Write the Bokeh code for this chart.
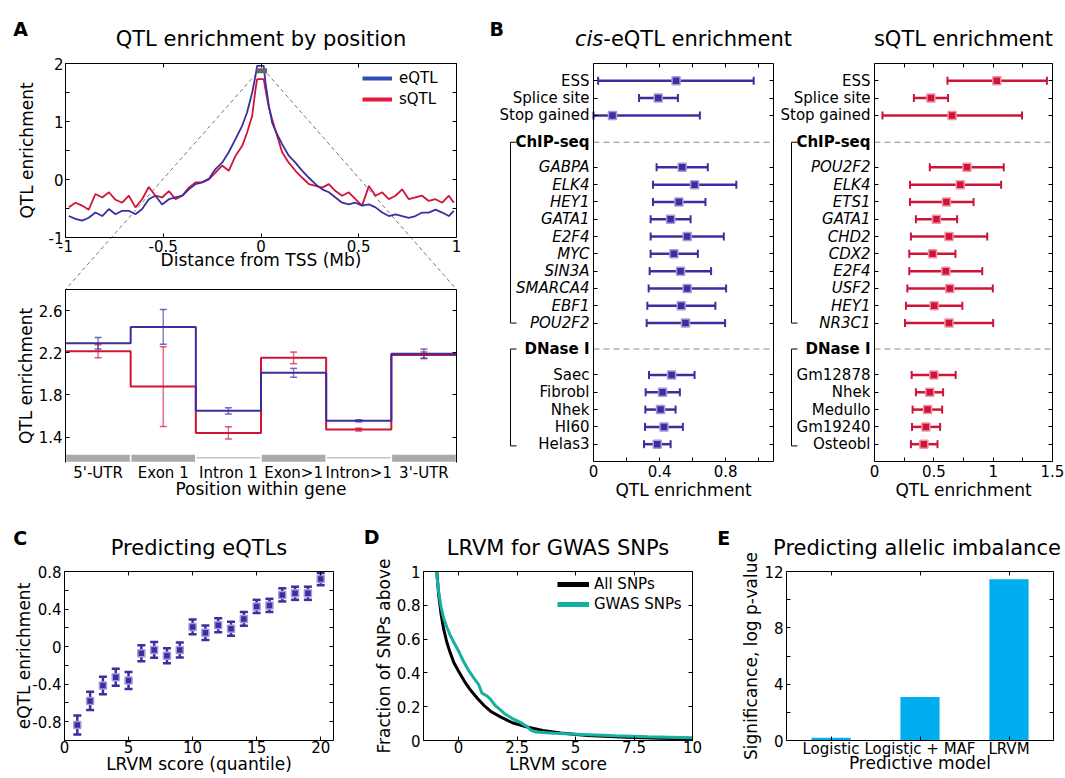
import numpy as np
from bokeh.plotting import figure
from bokeh.models import Range1d, LinearAxis, FixedTicker, Legend, LegendItem, ColumnDataSource
from bokeh.core.properties import value, field
from bokeh.embed import file_html
from bokeh.resources import INLINE

FONT = "DejaVu Sans"

# ============================ DATA ============================
# --- A (top): QTL enrichment by distance from TSS ---
dist_mb = [-0.983, -0.949, -0.915, -0.881, -0.847, -0.812, -0.778, -0.744, -0.710, -0.676,
           -0.642, -0.608, -0.574, -0.540, -0.506, -0.471, -0.437, -0.403, -0.369, -0.335,
           -0.301, -0.267, -0.233, -0.199, -0.165, -0.130, -0.096, -0.071, -0.045, -0.028,
           -0.020, 0.014, 0.023, 0.040, 0.057, 0.074, 0.108, 0.142, 0.176, 0.211,
           0.245, 0.279, 0.313, 0.347, 0.381, 0.415, 0.449, 0.483, 0.517, 0.552,
           0.586, 0.620, 0.654, 0.688, 0.722, 0.756, 0.790, 0.824, 0.858, 0.893,
           0.927, 0.961, 0.986]
eqtl_enrich = [-0.63, -0.68, -0.71, -0.66, -0.57, -0.63, -0.51, -0.60, -0.54, -0.54,
               -0.60, -0.51, -0.34, -0.28, -0.43, -0.34, -0.31, -0.28, -0.17, -0.08,
               -0.05, 0.01, 0.18, 0.29, 0.47, 0.70, 0.93, 1.16, 1.50, 1.79,
               1.96, 1.96, 1.67, 1.27, 0.98, 0.84, 0.61, 0.41, 0.29, 0.15,
               0.03, -0.08, -0.17, -0.22, -0.31, -0.40, -0.43, -0.40, -0.45, -0.43,
               -0.48, -0.57, -0.63, -0.60, -0.63, -0.66, -0.63, -0.57, -0.57, -0.52,
               -0.57, -0.63, -0.54]
sqtl_enrich = [-0.48, -0.40, -0.45, -0.52, -0.25, -0.31, -0.22, -0.35, -0.40, -0.28,
               -0.48, -0.34, -0.13, -0.28, -0.31, -0.20, -0.34, -0.28, -0.14, -0.05,
               -0.05, 0.00, 0.12, 0.24, 0.15, 0.41, 0.58, 0.81, 1.10, 1.56,
               1.73, 1.73, 1.55, 1.25, 1.04, 0.85, 0.47, 0.29, 0.15, 0.03,
               -0.08, -0.11, -0.14, -0.08, -0.20, -0.28, -0.22, -0.34, -0.45, -0.11,
               -0.28, -0.22, -0.34, -0.28, -0.17, -0.34, -0.31, -0.28, -0.37, -0.34,
               -0.40, -0.28, -0.40]
zoom_window_mb = [-0.023, 0.031]
zoom_window_y = [1.83, 1.92]

# --- A (bottom): enrichment by position within gene ---
gene_parts = ["5'-UTR", "Exon 1", "Intron 1", "Exon>1", "Intron>1", "3'-UTR"]
gene_part_is_exon = [True, True, False, True, False, True]
eqtl_by_part = [2.29, 2.445, 1.65, 2.01, 1.555, 2.19]
eqtl_by_part_err = [0.055, 0.165, 0.03, 0.042, 0.01, 0.045]
sqtl_by_part = [2.215, 1.88, 1.44, 2.152, 1.472, 2.178]
sqtl_by_part_err = [0.062, 0.378, 0.058, 0.055, 0.014, 0.03]

# --- B: annotation enrichment ---
annot_names = ["ESS", "Splice site", "Stop gained"]
cis_annot = [0.50, 0.392, 0.115]
cis_annot_lo = [0.028, 0.276, 0.0]
cis_annot_hi = [0.97, 0.511, 0.644]
cis_chip_names = ["GABPA", "ELK4", "HEY1", "GATA1", "E2F4", "MYC", "SIN3A", "SMARCA4", "EBF1", "POU2F2"]
cis_chip = [0.537, 0.612, 0.517, 0.467, 0.567, 0.487, 0.527, 0.567, 0.531, 0.557]
cis_chip_lo = [0.382, 0.36, 0.36, 0.346, 0.346, 0.346, 0.34, 0.334, 0.326, 0.322]
cis_chip_hi = [0.692, 0.865, 0.678, 0.588, 0.789, 0.632, 0.712, 0.803, 0.738, 0.797]
cis_dnase_names = ["Saec", "Fibrobl", "Nhek", "HI60", "Helas3"]
cis_dnase = [0.473, 0.418, 0.406, 0.427, 0.386]
cis_dnase_lo = [0.336, 0.316, 0.314, 0.312, 0.306]
cis_dnase_hi = [0.612, 0.523, 0.497, 0.541, 0.467]

s_annot = [1.031, 0.475, 0.654]
s_annot_lo = [0.615, 0.332, 0.067]
s_annot_hi = [1.453, 0.62, 1.243]
s_chip_names = ["POU2F2", "ELK4", "ETS1", "GATA1", "CHD2", "CDX2", "E2F4", "USF2", "HEY1", "NR3C1"]
s_chip = [0.779, 0.723, 0.606, 0.522, 0.628, 0.489, 0.601, 0.634, 0.503, 0.628]
s_chip_lo = [0.466, 0.299, 0.299, 0.349, 0.307, 0.293, 0.293, 0.277, 0.265, 0.257]
s_chip_hi = [1.089, 1.067, 0.835, 0.696, 0.95, 0.682, 0.908, 0.997, 0.74, 1.0]
s_dnase_names = ["Gm12878", "Nhek", "Medullo", "Gm19240", "Osteobl"]
s_dnase = [0.5, 0.466, 0.447, 0.433, 0.416]
s_dnase_lo = [0.313, 0.349, 0.321, 0.316, 0.307]
s_dnase_hi = [0.684, 0.578, 0.57, 0.553, 0.531]

# --- C: predicting eQTLs ---
lrvm_quantile = list(range(1, 21))
eqtl_by_quantile = [-0.835, -0.579, -0.414, -0.326, -0.361, -0.07, -0.035, -0.098, -0.035, 0.21,
                    0.147, 0.228, 0.19, 0.295, 0.428, 0.439, 0.551, 0.568, 0.568, 0.719]
eqtl_by_quantile_err = [0.10, 0.097, 0.093, 0.09, 0.09, 0.085, 0.083, 0.08, 0.08, 0.079,
                        0.077, 0.075, 0.075, 0.074, 0.07, 0.07, 0.07, 0.07, 0.07, 0.065]

# --- D: LRVM for GWAS SNPs ---
all_snps_score = [-0.93, -0.85, -0.75, -0.64, -0.50, -0.36, -0.20, 0.0, 0.25, 0.5, 0.8,
                  1.07, 1.4, 1.79, 2.3, 2.93, 3.6, 4.36, 5.5, 7.2, 8.6, 10.0]
all_snps_frac = [1.0, 0.86, 0.75, 0.66, 0.58, 0.52, 0.46, 0.41, 0.35, 0.30, 0.25,
                 0.21, 0.17, 0.14, 0.105, 0.08, 0.06, 0.045, 0.03, 0.019, 0.014, 0.01]
gwas_snps_score = [-0.95, -0.85, -0.75, -0.63, -0.5, -0.35, -0.2, 0.0, 0.2, 0.45, 0.7, 0.86, 1.0,
                   1.2, 1.36, 1.55, 1.8, 2.0, 2.3, 2.6, 2.9, 3.1, 3.3, 4.1, 5.3, 6.7, 8.1, 10.0]
gwas_snps_frac = [1.0, 0.88, 0.79, 0.72, 0.67, 0.62, 0.58, 0.53, 0.47, 0.41, 0.36, 0.33, 0.28,
                  0.265, 0.245, 0.21, 0.18, 0.155, 0.13, 0.11, 0.085, 0.06, 0.05, 0.043, 0.035,
                  0.028, 0.022, 0.016]

# --- E: predicting allelic imbalance ---
models = ["Logistic", "Logistic + MAF", "LRVM"]
significance = [0.2, 3.08, 11.45]

# ============================ STYLE / LAYOUT ============================
EQ = "#3b2e9e"
EQ_LIGHT = "#a49ddb"
SQ = "#cf1439"
SQ_LIGHT = "#ee95a6"
EQ_LEG = "#2d4db5"
SQ_LEG = "#e4173f"
TEAL = "#16b0a2"
BAR = "#00aeef"

W, H = 1064, 776

# B row positions
n_a = len(annot_names)
ann_rows = list(range(n_a))
chip_head = n_a + 0.55
chip_rows = [n_a + 2 + i for i in range(len(cis_chip_names))]
dnase_head = chip_rows[-1] + 1.5
dnase_rows = [dnase_head + 1.5 + i for i in range(len(cis_dnase_names))]
row_bottom = dnase_rows[-1] + 1

# boxes in canvas pixels: left, right, top, bottom
BOX = {
    "at": (65, 456, 63, 237),
    "ab": (65, 456, 289, 462),
    "bl": (593, 773, 63, 461),
    "br": (874, 1052, 63, 461),
    "c": (64, 333, 571, 740),
    "d": (423, 692, 571, 740),
    "e": (786, 1053, 571, 740),
}
# data limits: (x0, x1), (y_bottom, y_top)
LIMS = {
    "at": ((-1, 1), (-1, 2)),
    "ab": ((0, 6), (1.16, 2.8)),
    "bl": ((0, 1.09), (row_bottom, -1)),
    "br": ((0, 1.5), (row_bottom, -1)),
    "c": ((0, 21), (-1, 0.8)),
    "d": ((-1.5, 10), (0, 1)),
    "e": ((-0.5, 2.5), (0, 12)),
}


def xr(px0, px1, v0, v1):
    k = (v1 - v0) / (px1 - px0)
    return Range1d(v0 - px0 * k, v1 + (W - px1) * k)


def yr(py_top, py_bot, v_top, v_bot):
    k = (v_top - v_bot) / (py_bot - py_top)
    return Range1d(v_bot - (H - py_bot) * k, v_top + py_top * k)


def to_px(k, x, y):
    L, R, T, B = BOX[k]
    (x0, x1), (yb, yt) = LIMS[k]
    return L + (x - x0) / (x1 - x0) * (R - L), B - (y - yb) / (yt - yb) * (B - T)


p = figure(width=W, height=H, x_range=Range1d(0, W), y_range=Range1d(H, 0),
           x_axis_type=None, y_axis_type=None, toolbar_location=None, title=None,
           output_backend="svg", min_border=0, outline_line_color=None,
           background_fill_color="white", border_fill_color="white")

exr, eyr = {}, {}
for k, (L, R, T, B) in BOX.items():
    (x0, x1), (yb, yt) = LIMS[k]
    exr[k + "x"] = xr(L, R, x0, x1)
    eyr[k + "y"] = yr(T, B, yt, yb)
p.extra_x_ranges = exr
p.extra_y_ranges = eyr


def rn(k):
    return dict(x_range_name=k + "x", y_range_name=k + "y")


def add_axis(k, side, ticks=(), labels=None, minor=(), tin=4, label=None,
             lstand=2, alstand=0, line=True):
    (x0, x1), (yb, yt) = LIMS[k]
    loc = {"left": x0, "right": x1, "below": yb, "above": yt}[side]
    bounds = (min(yb, yt), max(yb, yt)) if side in ("left", "right") else (x0, x1)
    ax = LinearAxis(x_range_name=k + "x", y_range_name=k + "y", fixed_location=loc,
                    bounds=bounds,
                    ticker=FixedTicker(ticks=list(ticks), minor_ticks=list(minor)),
                    major_tick_in=tin, major_tick_out=0, minor_tick_in=tin, minor_tick_out=0,
                    major_tick_line_color="black", minor_tick_line_color="black",
                    axis_line_color="black" if line else None, axis_line_width=1,
                    major_label_standoff=lstand,
                    major_label_text_font=FONT, major_label_text_font_size="15px",
                    major_label_text_color="black",
                    axis_label_text_font=FONT, axis_label_text_font_size="17px",
                    axis_label_text_font_style="normal", axis_label_text_color="black",
                    axis_label_standoff=alstand)
    if labels is not None:
        ax.major_label_overrides = {t: s for t, s in zip(ticks, labels)}
    else:
        ax.major_label_text_color = None
    if label:
        ax.axis_label = label
    p.add_layout(ax, side)
    return ax


def txt(x, y, s, size, align="left", style="normal"):
    p.text(x=[x], y=[y], text=[s], text_font=value(FONT), text_font_size=value(size),
           text_font_style=style, text_align=align, text_baseline="alphabetic",
           text_color="black")


def legend_line(color, width):
    # off-canvas single point: draws nothing but gives the legend a thick sample line
    return p.line([-1000], [-1000], line_color=color, line_width=width)


# ============================ PANEL A (top) ============================
mx0, my0 = to_px("at", zoom_window_mb[0], zoom_window_y[0])
mx1, _ = to_px("at", zoom_window_mb[1], zoom_window_y[0])
abL, abR, abT, _ = BOX["ab"]
p.segment(x0=[mx0, mx1], y0=[my0, my0], x1=[abL, abR], y1=[abT, abT],
          line_color="#777777", line_width=1, line_dash="4 3")

p.line(dist_mb, sqtl_enrich, line_color=SQ, line_width=1.8, **rn("at"))
p.line(dist_mb, eqtl_enrich, line_color=EQ, line_width=1.8, **rn("at"))
p.quad(left=[zoom_window_mb[0]], right=[zoom_window_mb[1]], bottom=[zoom_window_y[0]],
       top=[zoom_window_y[1]], fill_color="#666666", line_color=None, **rn("at"))

leg_e = legend_line(EQ_LEG, 4)
leg_s = legend_line(SQ_LEG, 4)
p.add_layout(Legend(items=[LegendItem(label="eQTL", renderers=[leg_e]),
                           LegendItem(label="sQTL", renderers=[leg_s])],
                    location=(362, H - 109), padding=0, margin=0, spacing=1,
                    glyph_width=30, glyph_height=20, label_height=20, label_standoff=7,
                    label_text_font=FONT, label_text_font_size="15px",
                    label_text_color="black",
                    border_line_alpha=0, background_fill_alpha=0))

add_axis("at", "left", [-1, 0, 1, 2], ["-1", "0", "1", "2"], minor=[-0.5, 0.5, 1.5],
         label="QTL enrichment", lstand=2, alstand=9)
add_axis("at", "right", [-1, 0, 1, 2], minor=[-0.5, 0.5, 1.5])
add_axis("at", "below", [-1, -0.5, 0, 0.5, 1], ["-1", "-0.5", "0", "0.5", "1"],
         label="Distance from TSS (Mb)", lstand=2, alstand=-5)
add_axis("at", "above", [-1, -0.5, 0, 0.5, 1])

# ============================ PANEL A (bottom) ============================
yb_ab = LIMS["ab"][1][0]
exon_idx = [i for i, e in enumerate(gene_part_is_exon) if e]
intron_idx = [i for i, e in enumerate(gene_part_is_exon) if not e]
p.segment(x0=intron_idx, y0=[yb_ab + 0.045] * len(intron_idx),
          x1=[i + 1 for i in intron_idx], y1=[yb_ab + 0.045] * len(intron_idx),
          line_color="#c4c4c4", line_width=1.5, **rn("ab"))
p.quad(left=exon_idx, right=[i + 1 for i in exon_idx], bottom=[yb_ab] * len(exon_idx),
       top=[yb_ab + 0.08] * len(exon_idx), fill_color="#aaaaaa", line_color="white",
       line_width=1.5, **rn("ab"))

edges = list(range(len(gene_parts) + 1))
p.step(edges, sqtl_by_part + [sqtl_by_part[-1]], mode="after", line_color=SQ,
       line_width=2, **rn("ab"))
p.step(edges, eqtl_by_part + [eqtl_by_part[-1]], mode="after", line_color=EQ,
       line_width=2, **rn("ab"))
centers = [i + 0.5 for i in range(len(gene_parts))]
for vals, errs, col in ((sqtl_by_part, sqtl_by_part_err, SQ), (eqtl_by_part, eqtl_by_part_err, EQ)):
    lo = [v - e for v, e in zip(vals, errs)]
    hi = [v + e for v, e in zip(vals, errs)]
    p.segment(x0=centers, y0=lo, x1=centers, y1=hi, line_color=col, line_width=1.5,
              line_alpha=0.6, **rn("ab"))
    p.scatter(x=centers + centers, y=lo + hi, marker="dash", size=7, line_color=col,
              line_width=1.5, line_alpha=0.7, **rn("ab"))

add_axis("ab", "left", [1.4, 1.8, 2.2, 2.6], ["1.4", "1.8", "2.2", "2.6"],
         label="QTL enrichment", lstand=3, alstand=0)
add_axis("ab", "right", [1.4, 1.8, 2.2, 2.6])
add_axis("ab", "above", [])
add_axis("ab", "below", centers, gene_parts, tin=0, line=False,
         label="Position within gene", lstand=1, alstand=-6)


# ============================ PANEL B ============================
def panel_b(k, chip_names, dnase_names, a, alo, ahi, c, clo, chi, d, dlo, dhi, col, light,
            ticks, tlabels, minor):
    (x0, x1), _ = LIMS[k]
    L, R, T, B = BOX[k]
    ppu = (R - L) / (x1 - x0)
    p.segment(x0=[x0, x0], y0=[chip_head, dnase_head], x1=[x1, x1], y1=[chip_head, dnase_head],
              line_color="#8a8a8a", line_width=1, line_dash="6 4", **rn(k))
    xb, xa = x0 - 83 / ppu, x0 - 77 / ppu
    p.multi_line(xs=[[xa, xb, xb, xa], [xa, xb, xb, xa]],
                 ys=[[chip_head, chip_head, chip_rows[-1], chip_rows[-1]],
                     [dnase_head, dnase_head, dnase_rows[-1] + 0.1, dnase_rows[-1] + 0.1]],
                 line_color="black", line_width=1, **rn(k))
    rows = ann_rows + chip_rows + dnase_rows
    vals = a + c + d
    lo = alo + clo + dlo
    hi = ahi + chi + dhi
    p.segment(x0=lo, y0=rows, x1=hi, y1=rows, line_color=col, line_width=2.5, **rn(k))
    p.scatter(x=lo + hi, y=rows + rows, marker="dash", angle=np.pi / 2, size=8,
              line_color=col, line_width=2, **rn(k))
    p.scatter(x=vals, y=rows, marker="square", size=8, fill_color=col, line_color=light,
              line_width=1.5, **rn(k))
    names = annot_names + ["ChIP-seq"] + chip_names + ["DNase I"] + dnase_names
    ys = ann_rows + [chip_head] + chip_rows + [dnase_head] + dnase_rows
    styles = (["normal"] * len(annot_names) + ["bold"] + ["italic"] * len(chip_names)
              + ["bold"] + ["normal"] * len(dnase_names))
    src = ColumnDataSource(dict(x=[x0] * len(names), y=ys, t=names, s=styles))
    p.text(x="x", y="y", text="t", source=src, x_offset=-4, text_align="right",
           text_baseline="middle", text_font=value(FONT), text_font_size=value("15px"),
           text_font_style=field("s"), text_color="black", **rn(k))
    add_axis(k, "left", rows)
    add_axis(k, "right", rows)
    add_axis(k, "above", ticks, minor=minor)
    add_axis(k, "below", ticks, tlabels, minor=minor, label="QTL enrichment",
             lstand=3, alstand=0)


panel_b("bl", cis_chip_names, cis_dnase_names, cis_annot, cis_annot_lo, cis_annot_hi,
        cis_chip, cis_chip_lo, cis_chip_hi, cis_dnase, cis_dnase_lo, cis_dnase_hi, EQ, EQ_LIGHT,
        [0, 0.4, 0.8], ["0", "0.4", "0.8"], [0.2, 0.6, 1.0])
panel_b("br", s_chip_names, s_dnase_names, s_annot, s_annot_lo, s_annot_hi,
        s_chip, s_chip_lo, s_chip_hi, s_dnase, s_dnase_lo, s_dnase_hi, SQ, SQ_LIGHT,
        [0, 0.5, 1, 1.5], ["0", "0.5", "1", "1.5"], [0.25, 0.75, 1.25])

# ============================ PANEL C ============================
lo = [v - e for v, e in zip(eqtl_by_quantile, eqtl_by_quantile_err)]
hi = [v + e for v, e in zip(eqtl_by_quantile, eqtl_by_quantile_err)]
p.segment(x0=lrvm_quantile, y0=lo, x1=lrvm_quantile, y1=hi, line_color=EQ, line_width=2.5, **rn("c"))
p.scatter(x=lrvm_quantile + lrvm_quantile, y=lo + hi, marker="dash", size=8, line_color=EQ,
          line_width=2.5, **rn("c"))
p.scatter(x=lrvm_quantile, y=eqtl_by_quantile, marker="square", size=7, fill_color=EQ,
          line_color=EQ_LIGHT, line_width=1.5, **rn("c"))
add_axis("c", "left", [-0.8, -0.4, 0, 0.4, 0.8], ["-0.8", "-0.4", "0", "0.4", "0.8"],
         minor=[-0.6, -0.2, 0.2, 0.6], label="eQTL enrichment", lstand=3, alstand=-5)
add_axis("c", "right", [-0.8, -0.4, 0, 0.4, 0.8], minor=[-0.6, -0.2, 0.2, 0.6])
add_axis("c", "below", [0, 5, 10, 15, 20], ["0", "5", "10", "15", "20"],
         label="LRVM score (quantile)", lstand=0, alstand=-2)
add_axis("c", "above", [0, 5, 10, 15, 20])

# ============================ PANEL D ============================
p.line(all_snps_score, all_snps_frac, line_color="black", line_width=3, **rn("d"))
p.line(gwas_snps_score, gwas_snps_frac, line_color=TEAL, line_width=3, **rn("d"))
leg_all = legend_line("black", 5)
leg_gw = legend_line(TEAL, 5)
p.add_layout(Legend(items=[LegendItem(label="All SNPs", renderers=[leg_all]),
                           LegendItem(label="GWAS SNPs", renderers=[leg_gw])],
                    location=(557, H - 614), padding=0, margin=0, spacing=0,
                    glyph_width=32, glyph_height=20, label_height=20, label_standoff=5,
                    label_text_font=FONT, label_text_font_size="15px",
                    label_text_color="black",
                    border_line_alpha=0, background_fill_alpha=0))
add_axis("d", "left", [0, 0.2, 0.4, 0.6, 0.8, 1], ["0", "0.2", "0.4", "0.6", "0.8", "1"],
         label="Fraction of SNPs above", lstand=3, alstand=0)
add_axis("d", "right", [0, 0.2, 0.4, 0.6, 0.8, 1])
add_axis("d", "below", [0, 2.5, 5, 7.5, 10], ["0", "2.5", "5", "7.5", "10"],
         label="LRVM score", lstand=0, alstand=-2)
add_axis("d", "above", [0, 2.5, 5, 7.5, 10])

# ============================ PANEL E ============================
model_x = list(range(len(models)))
p.vbar(x=model_x, top=significance, bottom=0, width=0.44, fill_color=BAR, line_color=None, **rn("e"))
add_axis("e", "left", [0, 4, 8, 12], ["0", "4", "8", "12"], minor=[2, 6, 10],
         label="Significance, log p-value", lstand=3, alstand=0)
add_axis("e", "right", [0, 4, 8, 12], minor=[2, 6, 10])
add_axis("e", "below", model_x, models, label="Predictive model", lstand=-1, alstand=-8)
add_axis("e", "above", model_x)

# ============================ TITLES ============================
txt(12.7, 28.3, "A", "19px", style="bold")
txt(489, 28, "B", "19px", style="bold")
txt(12.7, 537.5, "C", "19px", style="bold")
txt(363.3, 536.5, "D", "19px", style="bold")
txt(716.7, 537, "E", "19px", style="bold")

txt(260.5, 38.5, "QTL enrichment by position", "21px", align="center")
txt(602.8, 38.5, "cis", "21px", align="right", style="italic")
txt(602.8, 38.5, "-eQTL enrichment", "21px", align="left")
txt(963, 38.5, "sQTL enrichment", "21px", align="center")
txt(198.5, 547, "Predicting eQTLs", "21px", align="center")
txt(557.5, 547.5, "LRVM for GWAS SNPs", "21px", align="center")
txt(916.5, 547, "Predicting allelic imbalance", "21px", align="center")

open("out.html", "w").write(file_html(p, INLINE))
